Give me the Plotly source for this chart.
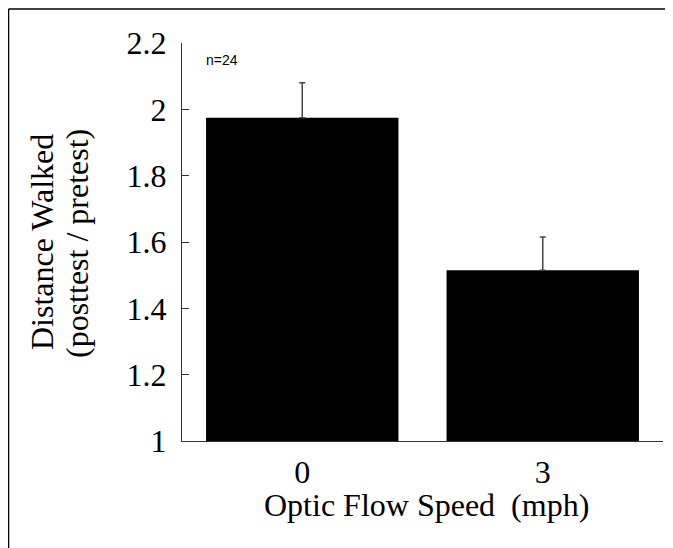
import plotly.graph_objects as go

categories = ["0", "3"]
means = [1.975, 1.515]
errors = [0.105, 0.10]
y_ticks = [1, 1.2, 1.4, 1.6, 1.8, 2, 2.2]
y_tick_labels = ["1", "1.2", "1.4", "1.6", "1.8", "2", "2.2"]

# the page body adds an 8px offset, so figure coords = window coords - 8
OFF = 8
W, H = 673 - OFF, 548 - OFF
L, R, T, B = 182 - OFF, 10, 43 - OFF, 107
pw, ph = W - L - R, H - T - B

def px(x):
    return (x - OFF - L) / pw

def py(y):
    return (H - B - (y - OFF)) / ph

serif = "Liberation Serif"
FS = 32

fig = go.Figure()
fig.add_trace(go.Bar(
    x=list(range(len(categories))), y=[m - 1 for m in means], base=1,
    width=0.8,
    marker=dict(color="black", line=dict(width=0)),
    error_y=dict(type="data", array=errors, arrayminus=[0, 0], symmetric=False,
                 color="#444444", thickness=1.5, width=3),
    showlegend=False,
))

fig.update_layout(
    width=W, height=H,
    margin=dict(l=L, r=R, t=T, b=B),
    paper_bgcolor="white", plot_bgcolor="white",
    xaxis=dict(range=[-0.5, 1.5], tickvals=[0, 1], ticktext=categories,
               showgrid=False, zeroline=False, showline=True,
               linecolor="#333333", linewidth=1, ticks="",
               ticklabelstandoff=3,
               tickfont=dict(family=serif, size=FS, color="black")),
    yaxis=dict(range=[1, 2.2], tickvals=y_ticks, ticktext=y_tick_labels,
               showgrid=False, zeroline=False, showline=True,
               linecolor="#333333", linewidth=1,
               ticks="inside", ticklen=7, tickcolor="#333333", tickwidth=1,
               ticklabelstandoff=8,
               tickfont=dict(family=serif, size=FS, color="black")),
    annotations=[
        dict(text="Distance Walked", textangle=-90,
             xref="paper", yref="paper", x=px(42), y=py(242),
             xanchor="center", yanchor="middle", showarrow=False,
             font=dict(family=serif, size=FS, color="black")),
        dict(text="(posttest / pretest)", textangle=-90,
             xref="paper", yref="paper", x=px(77), y=py(244),
             xanchor="center", yanchor="middle", showarrow=False,
             font=dict(family=serif, size=FS, color="black")),
        dict(text="Optic Flow Speed  (mph)",
             xref="paper", yref="paper", x=px(426), y=py(505),
             xanchor="center", yanchor="middle", showarrow=False,
             font=dict(family=serif, size=FS, color="black")),
        dict(text="n=24", xref="paper", yref="paper", x=px(204), y=py(60),
             xanchor="left", yanchor="middle", showarrow=False,
             font=dict(family="Liberation Sans", size=14, color="black")),
    ],
    shapes=[
        dict(type="line", xref="paper", yref="paper",
             x0=px(8.5), x1=px(680), y0=py(9), y1=py(9),
             line=dict(color="black", width=1.5)),
        dict(type="line", xref="paper", yref="paper",
             x0=px(8.5), x1=px(8.5), y0=py(9), y1=py(560),
             line=dict(color="black", width=1.5)),
    ],
)

fig.write_html("out.html")
